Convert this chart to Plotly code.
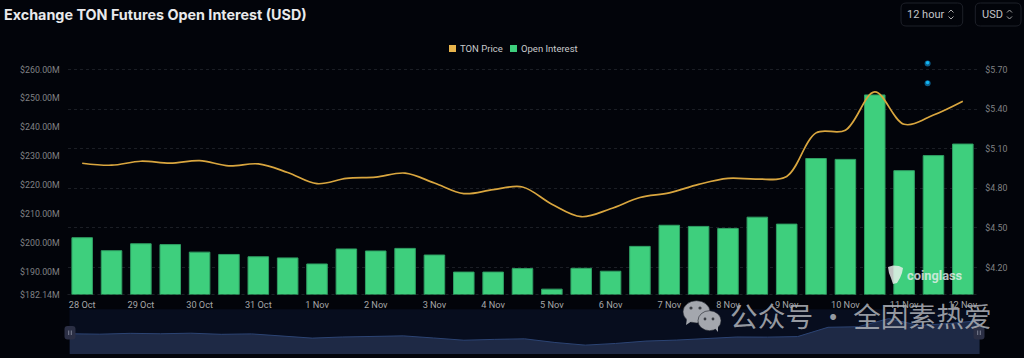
import plotly.graph_objects as go

W, H = 1024, 358

dates = ["28 Oct", "29 Oct", "30 Oct", "31 Oct", "1 Nov", "2 Nov", "3 Nov", "4 Nov",
         "5 Nov", "6 Nov", "7 Nov", "8 Nov", "9 Nov", "10 Nov", "11 Nov", "12 Nov"]
open_interest = [201.8, 197.3, 199.7, 199.4, 196.8, 196.0, 195.2, 194.8, 192.7, 197.9, 197.2,
                 198.1, 195.8, 189.9, 189.9, 191.1, 184.0, 191.2, 190.2, 198.8, 206.1, 205.7,
                 205.0, 208.9, 206.5, 229.2, 228.9, 251.2, 225.0, 230.2, 234.2]
ton_price = [4.99, 4.975, 5.005, 4.99, 5.01, 4.97, 4.985, 4.92, 4.835, 4.875, 4.885, 4.915,
             4.84, 4.76, 4.79, 4.81, 4.68, 4.585, 4.645, 4.73, 4.765, 4.83, 4.875, 4.87,
             4.89, 5.22, 5.24, 5.53, 5.285, 5.355, 5.46]
left_ticks = [182.14, 190, 200, 210, 220, 230, 240, 250, 260]
left_labels = ["$182.14M", "$190.00M", "$200.00M", "$210.00M", "$220.00M", "$230.00M",
               "$240.00M", "$250.00M", "$260.00M"]
right_ticks = [4.2, 4.5, 4.8, 5.1, 5.4, 5.7]
right_labels = ["$4.20", "$4.50", "$4.80", "$5.10", "$5.40", "$5.70"]
event_x = [28.8, 28.8]
event_price = [5.745, 5.595]

BG = "#02040a"
GRID = "#1b1e25"
GOLD = "#d9a63f"
GREEN = "#3ecf7d"
FONT = "Roboto, Arial, sans-serif"

idx = list(range(len(open_interest)))


def fx(p):
    return p / W


def fy(p):
    return 1 - p / H


def rrect(x0, y0, x1, y1, r):
    X0, X1, Y0, Y1 = fx(x0), fx(x1), fy(y0), fy(y1)
    rx, ry = r / W, r / H
    return (f"M{X0+rx},{Y0} L{X1-rx},{Y0} Q{X1},{Y0} {X1},{Y0-ry} L{X1},{Y1+ry} Q{X1},{Y1} {X1-rx},{Y1} "
            f"L{X0+rx},{Y1} Q{X0},{Y1} {X0},{Y1+ry} L{X0},{Y0-ry} Q{X0},{Y0} {X0+rx},{Y0} Z")


def poly(points, close=False):
    s = "M" + " L".join(f"{fx(a)},{fy(b)}" for a, b in points)
    return s + (" Z" if close else "")


fig = go.Figure()
fig.add_trace(go.Bar(x=idx, y=open_interest, name="Open Interest", width=0.7, yaxis="y",
                     marker=dict(color=GREEN, line=dict(color="#2f9f63", width=1))))
fig.add_trace(go.Scatter(x=idx, y=ton_price, name="TON Price", yaxis="y2", mode="lines",
                         line=dict(color=GOLD, width=1.7, shape="spline", smoothing=1.0)))
fig.add_trace(go.Scatter(x=event_x, y=event_price, yaxis="y2", mode="markers",
                         marker=dict(color="#0b5f8c", size=6), hoverinfo="skip"))
fig.add_trace(go.Scatter(x=event_x, y=[p + 0.006 for p in event_price], yaxis="y2", mode="markers",
                         marker=dict(color="#12b5f0", size=3.5), hoverinfo="skip"))
fig.add_trace(go.Scatter(x=idx, y=ton_price, xaxis="x2", yaxis="y3", mode="lines", fill="tozeroy",
                         fillcolor="#1e2945", line=dict(color="#2c4474", width=1), hoverinfo="skip"))

shapes = []
shapes.append(dict(type="line", xref="paper", yref="paper", x0=fx(67.5), x1=fx(977.5), y0=fy(294.5), y1=fy(294.5),
                   line=dict(color=GRID, width=1, dash="3px,3px"), layer="below"))
shapes.append(dict(type="rect", xref="paper", yref="paper", x0=fx(69.5), x1=fx(979.7), y0=fy(354), y1=fy(309.3),
                   fillcolor="#070d1e", line=dict(width=0), layer="below"))
for cx in (70, 979):
    shapes.append(dict(type="path", path=rrect(cx - 5.5, 326, cx + 5.5, 339.5, 3), xref="paper", yref="paper",
                       fillcolor="#2b2f45", line=dict(width=0)))
    for dx in (-1.3, 1.3):
        shapes.append(dict(type="line", xref="paper", yref="paper", x0=fx(cx + dx), x1=fx(cx + dx),
                           y0=fy(330.5), y1=fy(335), line=dict(color="#7c8092", width=1)))
for x0, x1, ax in ((901, 962.7, 951), (975.3, 1021, 1009.5)):
    shapes.append(dict(type="path", path=rrect(x0, 3, x1, 26, 5), xref="paper", yref="paper",
                       fillcolor=BG, line=dict(color="#1d2028", width=1)))
    shapes.append(dict(type="path", path=poly([(ax - 2.5, 12.5), (ax, 10), (ax + 2.5, 12.5)]), xref="paper",
                       yref="paper", line=dict(color="#a8a8a8", width=1)))
    shapes.append(dict(type="path", path=poly([(ax - 2.5, 16.5), (ax, 19), (ax + 2.5, 16.5)]), xref="paper",
                       yref="paper", line=dict(color="#a8a8a8", width=1)))
for x0, col in ((449, "#e8b44c"), (510, GREEN)):
    shapes.append(dict(type="rect", xref="paper", yref="paper", x0=fx(x0), x1=fx(x0 + 7), y0=fy(52), y1=fy(45),
                       fillcolor=col, line=dict(width=0)))
shapes.append(dict(type="path", xref="paper", yref="paper", fillcolor="rgba(235,240,238,0.82)", line=dict(width=0),
                   path=poly([(888, 267), (893, 265.5), (899, 266), (903, 268), (902, 273), (900, 278), (897, 283),
                              (893, 284), (891, 278), (889, 273)], True)))
WC = "#a4a7ae"
for x0, x1, y0, y1 in ((683, 710, 300.7, 323), (698, 721, 310.7, 330.7)):
    shapes.append(dict(type="circle", xref="paper", yref="paper", x0=fx(x0), x1=fx(x1), y0=fy(y1), y1=fy(y0),
                       fillcolor=WC, line=dict(color="#20242c", width=0.6)))
shapes.append(dict(type="path", xref="paper", yref="paper", fillcolor=WC, line=dict(width=0),
                   path=poly([(687, 318), (686, 325), (692, 321)], True)))
shapes.append(dict(type="path", xref="paper", yref="paper", fillcolor=WC, line=dict(width=0),
                   path=poly([(714, 327), (718, 332), (718, 325)], True)))
for cx, cy, r in ((691, 308, 1.6), (700, 308, 1.6), (705, 319, 1.4), (713, 319, 1.4)):
    shapes.append(dict(type="circle", xref="paper", yref="paper", x0=fx(cx - r), x1=fx(cx + r), y0=fy(cy + r),
                       y1=fy(cy - r), fillcolor="#3a3d44", line=dict(width=0)))

anns = [
    dict(text="<b>Exchange TON Futures Open Interest (USD)</b>", x=fx(4), y=fy(14), xanchor="left",
         font=dict(family="Inter, sans-serif", size=14.35, color="#e9eaec")),
    dict(text="12 hour", x=fx(907), y=fy(14.5), xanchor="left", font=dict(family=FONT, size=11, color="#c4c5c8")),
    dict(text="USD", x=fx(981.5), y=fy(14.5), xanchor="left", font=dict(family=FONT, size=11, color="#c4c5c8")),
    dict(text="TON Price", x=fx(460), y=fy(48.5), xanchor="left", font=dict(family=FONT, size=9.5, color="#c9cacc")),
    dict(text="Open Interest", x=fx(521), y=fy(48.5), xanchor="left", font=dict(family=FONT, size=9.5, color="#c9cacc")),
    dict(text="<b>coinglass</b>", x=fx(907), y=fy(275), xanchor="left",
         font=dict(family=FONT, size=12.8, color="rgba(235,240,238,0.8)")),
    dict(text="公众号 · 全因素热爱", x=fx(730), y=fy(315), xanchor="left",
         font=dict(family="Noto Sans CJK SC", size=27.7, color="rgba(170,173,180,0.88)")),
]
for a in anns:
    a.update(xref="paper", yref="paper", showarrow=False, yanchor="middle", borderpad=0, borderwidth=0)

px_xdom = [fx(67.5), fx(977.5)]
# top of both value axes is lifted 9.5 px above the $260M / $5.70 gridline so the upper event marker fits
y_dom = [fy(294.5), fy(60)]
fig.update_layout(
    width=W, height=H, autosize=False, margin=dict(l=0, r=0, t=0, b=0, autoexpand=False),
    paper_bgcolor=BG, plot_bgcolor="rgba(0,0,0,0)", showlegend=False, bargap=0.3,
    font=dict(family=FONT),
    shapes=shapes, annotations=anns,
    xaxis=dict(domain=px_xdom, anchor="y", range=[-0.5, 30.5], tickmode="array",
               tickvals=idx[::2], ticktext=dates, showgrid=False, zeroline=False, showline=False,
               ticks="outside", ticklen=1, tickcolor="rgba(0,0,0,0)",
               tickfont=dict(size=9.2, color="#a5a6a8", family=FONT)),
    yaxis=dict(domain=y_dom, range=[182.14, 263.29], tickmode="array", tickvals=left_ticks,
               ticktext=left_labels, showgrid=False, zeroline=False, ticks="outside", ticklen=5,
               tickcolor="rgba(0,0,0,0)", tickfont=dict(size=8.8, color="#808184", family=FONT)),
    yaxis2=dict(domain=y_dom, overlaying="y", side="right", anchor="x", range=[3.9955, 5.772],
                tickmode="array", tickvals=right_ticks, ticktext=right_labels, showgrid=True,
                griddash="3px,3px", gridcolor=GRID, gridwidth=1, zeroline=False, ticks="outside", ticklen=5,
                tickcolor="rgba(0,0,0,0)", tickfont=dict(size=8.8, color="#808184", family=FONT)),
    xaxis2=dict(domain=[fx(69.5), fx(979.7)], anchor="y3", range=[0, 30], visible=False),
    yaxis3=dict(domain=[fy(354), fy(309.3)], anchor="x2", range=[4.27, 5.86], visible=False),
)

fig.write_html("out.html", config={"displayModeBar": False},
               post_script="document.body.style.margin='0';document.body.style.background='#02040a';")
